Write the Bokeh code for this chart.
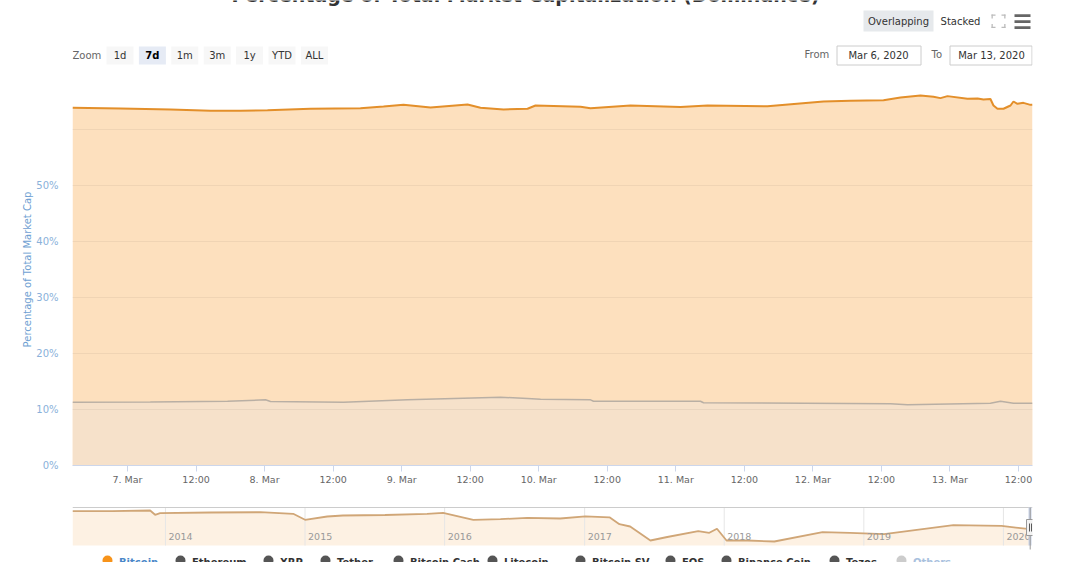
import pandas as pd
from bokeh.plotting import figure
from bokeh.models import Range1d, FixedTicker, CustomJSTickFormatter
from bokeh.layouts import column
from bokeh.core.properties import value
from bokeh.embed import file_html
from bokeh.resources import INLINE

FONT = "DejaVu Sans"

# ---------------- data: main chart (7 days) ----------------
btc_times = ["2020-03-06 14:22", "2020-03-06 22:46", "2020-03-07 07:32", "2020-03-07 14:32",
             "2020-03-07 19:47", "2020-03-08 00:31", "2020-03-08 08:02", "2020-03-08 16:47",
             "2020-03-08 20:49", "2020-03-09 00:19", "2020-03-09 05:03", "2020-03-09 11:32",
             "2020-03-09 13:48", "2020-03-09 17:50", "2020-03-09 22:02", "2020-03-09 23:26",
             "2020-03-10 07:19", "2020-03-10 09:04", "2020-03-10 16:04", "2020-03-11 00:49",
             "2020-03-11 05:33", "2020-03-11 16:03", "2020-03-12 01:51", "2020-03-12 06:35",
             "2020-03-12 12:22", "2020-03-12 15:20", "2020-03-12 18:50", "2020-03-12 21:07",
             "2020-03-12 22:20", "2020-03-12 23:34", "2020-03-13 03:04", "2020-03-13 04:50",
             "2020-03-13 05:52", "2020-03-13 07:05", "2020-03-13 07:37", "2020-03-13 08:19",
             "2020-03-13 09:22", "2020-03-13 10:36", "2020-03-13 11:07", "2020-03-13 11:49",
             "2020-03-13 12:52", "2020-03-13 14:05", "2020-03-13 14:27"]
btc_vals = [63.88, 63.75, 63.57, 63.36, 63.34, 63.45, 63.70, 63.80, 64.10, 64.40, 63.93, 64.45,
            63.88, 63.57, 63.70, 64.29, 64.05, 63.80, 64.29, 64.00, 64.29, 64.16, 65.00, 65.12,
            65.23, 65.70, 66.07, 65.83, 65.60, 65.96, 65.48, 65.55, 65.36, 65.45, 64.29, 63.70,
            63.70, 64.29, 65.00, 64.58, 64.76, 64.40, 64.40]

eth_times = ["2020-03-06 14:22", "2020-03-07 04:00", "2020-03-07 17:31", "2020-03-08 00:10",
             "2020-03-08 01:02", "2020-03-08 13:49", "2020-03-09 01:01", "2020-03-09 17:18",
             "2020-03-09 22:02", "2020-03-10 00:19", "2020-03-10 09:04", "2020-03-10 09:35",
             "2020-03-11 04:19", "2020-03-11 04:51", "2020-03-12 13:35", "2020-03-12 16:34",
             "2020-03-13 07:05", "2020-03-13 08:51", "2020-03-13 11:07", "2020-03-13 14:27"]
eth_vals = [11.30, 11.32, 11.48, 11.73, 11.43, 11.30, 11.73, 12.20, 11.96, 11.84, 11.73, 11.48,
            11.48, 11.20, 11.02, 10.84, 11.13, 11.48, 11.13, 11.13]

x_range_start = "2020-03-06 14:22"
x_range_end = "2020-03-13 14:27"
x_tick_times = ["2020-03-07 00:00", "2020-03-07 12:00", "2020-03-08 00:00", "2020-03-08 12:00",
                "2020-03-09 00:00", "2020-03-09 12:00", "2020-03-10 00:00", "2020-03-10 12:00",
                "2020-03-11 00:00", "2020-03-11 12:00", "2020-03-12 00:00", "2020-03-12 12:00",
                "2020-03-13 00:00", "2020-03-13 12:00"]
x_tick_labels = ["7. Mar", "12:00", "8. Mar", "12:00", "9. Mar", "12:00", "10. Mar", "12:00",
                 "11. Mar", "12:00", "12. Mar", "12:00", "13. Mar", "12:00"]
y_ticks = [0, 10, 20, 30, 40, 50, 60, 70]
y_tick_labels = ["0%", "10%", "20%", "30%", "40%", "50%", "", ""]

# ---------------- data: navigator (full history) ----------------
nav_dates = ["2013-05-03", "2013-08-15", "2013-11-22", "2013-12-05", "2013-12-18", "2014-04-28",
             "2014-09-06", "2014-12-01", "2015-01-01", "2015-02-28", "2015-04-10", "2015-07-29",
             "2015-11-16", "2015-12-28", "2016-03-16", "2016-05-26", "2016-08-04", "2016-10-29",
             "2017-01-03", "2017-03-07", "2017-04-02", "2017-04-30", "2017-06-22", "2017-08-05",
             "2017-10-25", "2017-11-23", "2017-12-13", "2018-01-07", "2018-03-03", "2018-05-12",
             "2018-09-15", "2018-11-26", "2019-02-23", "2019-08-23", "2019-12-27", "2020-02-27",
             "2020-03-13"]
nav_vals = [93.6, 93.8, 95.0, 86.4, 89.6, 91.0, 91.6, 88.4, 76.4, 83.0, 85.0, 86.0,
            88.4, 90.4, 76.4, 77.6, 80.4, 79.0, 83.4, 81.4, 67.6, 63.0, 35.0, 42.0,
            53.8, 50.4, 58.6, 35.0, 35.0, 33.0, 51.8, 50.4, 47.6, 65.6, 64.2, 58.6, 59.0]
nav_range_start = "2013-05-03"
nav_range_end = "2020-03-17"
nav_years = ["2014", "2015", "2016", "2017", "2018", "2019", "2020"]

legend_names = ["Bitcoin", "Ethereum", "XRP", "Tether", "Bitcoin Cash", "Litecoin",
                "Bitcoin SV", "EOS", "Binance Coin", "Tezos", "Others"]
legend_dot_colors = ["#f7931a", "#555555", "#555555", "#555555", "#555555", "#555555",
                     "#555555", "#555555", "#555555", "#555555", "#cccccc"]
legend_text_colors = ["#4a87c8", "#333333", "#333333", "#333333", "#333333", "#333333",
                      "#333333", "#333333", "#333333", "#333333", "#a9c1de"]

title_text = "Percentage of Total Market Capitalization (Dominance)"
zoom_buttons = ["1d", "7d", "1m", "3m", "1y", "YTD", "ALL"]
zoom_selected = "7d"
date_from = "Mar 6, 2020"
date_to = "Mar 13, 2020"


def ms(s):
    return pd.Timestamp(s).value // 10**6


W = 1080
PLOT_L, PLOT_R = 72, 1032  # page x of the plotting area (shared by all strips)


def strip(height, x_range, y_range):
    p = figure(width=W, height=height, x_range=x_range, y_range=y_range,
               output_backend="svg", toolbar_location=None,
               x_axis_location=None, y_axis_location=None,
               min_border_left=PLOT_L, min_border_right=W - PLOT_R,
               min_border_top=0, min_border_bottom=0)
    p.outline_line_color = None
    p.background_fill_color = "white"
    p.border_fill_color = "white"
    p.grid.visible = False
    return p


def txt(p, xs, ys, texts, size="10px", color="#333333", align="center", style="normal",
        baseline="middle", **kw):
    p.text(x=xs, y=ys, text=texts, text_font=value(FONT), text_font_size=size,
           text_color=color, text_align=align, text_baseline=baseline,
           text_font_style=style, **kw)


def rect(p, l, r, t, b, fill, line=None, **kw):
    p.quad(left=l, right=r, top=t, bottom=b, fill_color=fill, line_color=line, **kw)


# ---------------- top strip: title remnant + controls (page pixel coords) ----------------
p0 = strip(73, Range1d(PLOT_L, PLOT_R), Range1d(73, 0))

# title (mostly above the window)
txt(p0, [525], [-6], [title_text], size="19px", style="bold", baseline="alphabetic")

# range selector
txt(p0, [72], [54.5], ["Zoom"], color="#666666", align="left")
centers = [119.5 + 32.4 * i for i in range(len(zoom_buttons))]
fills = ["#e6ebf5" if b == zoom_selected else "#f7f7f7" for b in zoom_buttons]
rect(p0, [c - 13.5 for c in centers], [c + 13.5 for c in centers], 46, 64, fills)
txt(p0, centers, [54.5] * len(centers), zoom_buttons,
    color=["#000000" if b == zoom_selected else "#333333" for b in zoom_buttons],
    style=["bold" if b == zoom_selected else "normal" for b in zoom_buttons])

# overlapping / stacked
rect(p0, 863, 933, 10, 31, "#e6e9ec")
txt(p0, [898, 960], [20.5, 20.5], ["Overlapping", "Stacked"])
# fullscreen icon corners
cl, cr, ct, cb = [], [], [], []
for (cx, cy, sx, sy) in [(991, 14, 1, 1), (1005, 14, -1, 1), (991, 27.5, 1, -1), (1005, 27.5, -1, -1)]:
    cl += [min(cx, cx + 4 * sx), min(cx, cx + 1.3 * sx)]
    cr += [max(cx, cx + 4 * sx), max(cx, cx + 1.3 * sx)]
    ct += [min(cy, cy + 1.3 * sy), min(cy, cy + 4 * sy)]
    cb += [max(cy, cy + 1.3 * sy), max(cy, cy + 4 * sy)]
rect(p0, cl, cr, ct, cb, "#bbbbbb")
# hamburger
rect(p0, 1014, 1030, [13.8, 19.8, 25.8], [16.4, 22.4, 28.4], "#666666")

# date inputs
txt(p0, [804, 931], [54, 54], ["From", "To"], color="#666666", align="left")
rect(p0, [836.5, 949.5], [920.5, 1031.5], 45.5, 64.5, "white", line="#cccccc")
txt(p0, [878, 991], [54.5, 54.5], [date_from, date_to])

# ---------------- main figure ----------------
p1 = figure(width=W, height=427, x_axis_type="datetime",
            x_range=Range1d(pd.Timestamp(x_range_start), pd.Timestamp(x_range_end)),
            y_range=Range1d(0, 70), output_backend="svg", toolbar_location=None,
            min_border_left=PLOT_L, min_border_right=W - PLOT_R, min_border_top=0,
            min_border_bottom=35)
p1.outline_line_color = None
p1.background_fill_color = "white"
p1.border_fill_color = "white"

btc_x = pd.to_datetime(btc_times)
eth_x = pd.to_datetime(eth_times)
p1.varea(x=btc_x, y1=0, y2=btc_vals, fill_color="#fde0be")
p1.varea(x=eth_x, y1=0, y2=eth_vals, fill_color="#f6e1ca")
p1.line(eth_x, eth_vals, line_color="#b9afa4", line_width=1.5)
p1.line(btc_x, btc_vals, line_color="#e38f2a", line_width=2)

p1.xaxis.ticker = FixedTicker(ticks=[ms(t) for t in x_tick_times])
p1.xaxis.formatter = CustomJSTickFormatter(
    args=dict(tk=[ms(t) for t in x_tick_times], lb=x_tick_labels),
    code="""let b = 0, d = Infinity;
for (let i = 0; i < tk.length; i++) { const e = Math.abs(tk[i] - tick); if (e < d) { d = e; b = i; } }
return lb[b];""")
p1.xaxis.axis_line_color = "#ccd6eb"
p1.xaxis.major_tick_line_color = "#ccd6eb"
p1.xaxis.major_tick_out = 6
p1.xaxis.major_tick_in = 0
p1.xaxis.minor_tick_line_color = None
p1.xaxis.major_label_text_font = FONT
p1.xaxis.major_label_text_font_size = "9.5px"
p1.xaxis.major_label_text_color = "#666666"
p1.xaxis.major_label_standoff = 2
p1.xgrid.visible = False

p1.yaxis.ticker = FixedTicker(ticks=y_ticks)
p1.yaxis.formatter = CustomJSTickFormatter(
    args=dict(tk=y_ticks, lb=y_tick_labels),
    code="const i = tk.indexOf(tick); return i >= 0 ? lb[i] : '';")
p1.yaxis.axis_line_color = None
p1.yaxis.major_tick_line_color = None
p1.yaxis.major_tick_out = 0
p1.yaxis.major_tick_in = 0
p1.yaxis.minor_tick_line_color = None
p1.yaxis.minor_tick_out = 0
p1.yaxis.major_label_standoff = 14
p1.yaxis.major_label_text_font = FONT
p1.yaxis.major_label_text_font_size = "10px"
p1.yaxis.major_label_text_color = "#8ab1da"
p1.yaxis.axis_label = "Percentage of Total Market Cap"
p1.yaxis.axis_label_text_font = FONT
p1.yaxis.axis_label_text_font_size = "10px"
p1.yaxis.axis_label_text_font_style = "normal"
p1.yaxis.axis_label_text_color = "#6f9fd2"
p1.yaxis.axis_label_standoff = 0
p1.ygrid.grid_line_color = "black"
p1.ygrid.grid_line_alpha = 0.05
p1.ygrid.level = "overlay"

# ---------------- navigator + legend strip ----------------
p2 = strip(62, Range1d(pd.Timestamp(nav_range_start), pd.Timestamp(nav_range_end)),
           Range1d(562, 500))
p2.extra_x_ranges = {"px": Range1d(PLOT_L, PLOT_R)}
p2.extra_y_ranges = {"nav": Range1d(-9, 115)}   # 507px -> 101, 545px -> 25

year_x = [pd.Timestamp(y + "-01-01") for y in nav_years]
nav_x = pd.to_datetime(nav_dates)
p2.varea(x=nav_x, y1=25, y2=nav_vals, fill_color="#fdf1e3", y_range_name="nav")
p2.segment(x0=year_x, x1=year_x, y0=507, y1=545, line_color="#e6e6e6", line_width=1)
p2.line(nav_x, nav_vals, line_color="#d0a677", line_width=1.8, y_range_name="nav")
txt(p2, year_x, [536] * len(year_x), nav_years, size="9.5px", color="#999999",
    align="left", x_offset=3)
p2.segment(x0=PLOT_L, x1=PLOT_R, y0=507, y1=507, line_color="#cccccc", line_width=1,
           x_range_name="px")

# selected range mask + handle
rect(p2, 1028, 1031, 507, 545, "#c9d3e8", x_range_name="px")
rect(p2, 1029.2, 1030.2, 507, 549, "#999999", x_range_name="px")
rect(p2, 1026, 1034, 519, 535, "#f2f2f2", line="#999999", x_range_name="px")
rect(p2, [1028.6, 1030.6], [1029.4, 1031.4], 523, 531, "#333333", x_range_name="px")

# legend (cut off by the window bottom, as in the reference)
dot_x = [107, 180, 268, 325, 398, 492, 580, 670, 726, 834, 901]
p2.scatter(x=dot_x, y=[560] * len(dot_x), size=10, marker="circle",
           fill_color=legend_dot_colors, line_color=None, x_range_name="px")
txt(p2, [x + 11.5 for x in dot_x], [561.5] * len(dot_x), legend_names, size="10px",
    color=legend_text_colors, align="left", style="bold", x_range_name="px")

layout = column(p0, p1, p2)
open("out.html", "w").write(file_html(layout, INLINE))
